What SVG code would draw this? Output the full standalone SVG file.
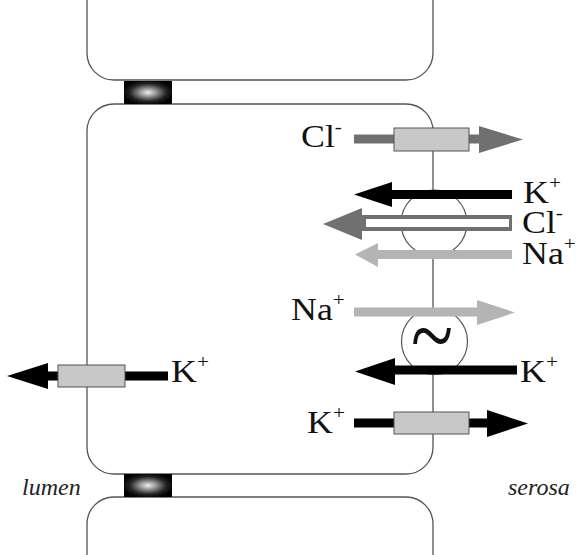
<svg xmlns="http://www.w3.org/2000/svg" width="580" height="555" viewBox="0 0 580 555">
<style>
.mem{fill:none;stroke:#555;stroke-width:1.3}
.box{fill:#c8c8c8;stroke:#555;stroke-width:1}
.circ{fill:#fff;stroke:#555;stroke-width:1.2}
.lbl{font-family:"Liberation Serif","Times New Roman",serif;font-size:32px;fill:#111}
.sup{font-size:19px}
.side{font-family:"Liberation Serif","Times New Roman",serif;font-size:24px;font-style:italic;fill:#222}
.blk{fill:#000}
.dg{fill:#707070}
.lg{fill:#b4b4b4}
</style>
<defs>
<radialGradient id="tj" cx="50%" cy="50%" r="55%">
<stop offset="0" stop-color="#f0f0f0"/>
<stop offset="0.3" stop-color="#999"/>
<stop offset="0.7" stop-color="#222"/>
<stop offset="1" stop-color="#000"/>
</radialGradient>
</defs>
<g id="cells">
<path class="mem" d="M87,0 V53 A27,27 0 0 0 114,80 H406 A27,27 0 0 0 433,53 V0"/>
<rect class="mem" x="87" y="104" width="346" height="370" rx="27" ry="27"/>
<path class="mem" d="M87,555 V524 A27,27 0 0 1 114,497 H406 A27,27 0 0 1 433,524 V555"/>
</g>
<g id="tight-junction-top"><rect x="124" y="81" width="48" height="23" fill="url(#tj)"/></g>
<g id="tight-junction-bottom"><rect x="124" y="474" width="48" height="23" fill="url(#tj)"/></g>
<g id="cotransporter-circle"><circle class="circ" cx="434" cy="223" r="33"/></g>
<g id="pump-circle"><circle class="circ" cx="434.5" cy="341.5" r="33"/></g>
<g id="connectors">
<polygon class="dg" points="354,134.5 479,134.5 479,126 523,139.5 479,153 479,143.5 354,143.5"/>
<polygon class="blk" points="512,190 392,190 392,182 354,194.5 392,207 392,199 512,199"/>
<polygon class="dg" points="512,215 362,215 362,208 323,224 362,240 362,231 512,231"/>
<rect x="366" y="219" width="143" height="8" fill="#fff"/>
<polygon class="lg" points="512,250 378,250 378,243 355,254.5 378,267 378,259 512,259"/>
<polygon class="lg" points="354,307.5 477,307.5 477,300 515,312.5 477,325 477,316.5 354,316.5"/>
<polygon class="blk" points="517,365.5 395,365.5 395,358 355,371.5 395,385 395,374.5 517,374.5"/>
<polygon class="blk" points="354,418.5 487,418.5 487,410 528,423.5 487,437 487,427.5 354,427.5"/>
<polygon class="blk" points="168,371.5 48,371.5 48,363 7,376 48,389 48,380.5 168,380.5"/>
</g>
<g id="cl-channel"><rect class="box" x="394" y="128" width="75" height="23"/></g>
<g id="k-channel-serosal"><rect class="box" x="394" y="412" width="75" height="22"/></g>
<g id="k-channel-luminal"><rect class="box" x="58" y="365" width="67" height="22"/></g>
<g id="tilde"><text transform="translate(411,367) scale(0.95,1.15)" style="font-family:'Liberation Serif','Times New Roman',serif;font-size:82px;fill:#111">~</text></g>
<g id="labels">
<text class="lbl" transform="translate(301,147) scale(1.12,1)">Cl<tspan class="sup" dy="-14">-</tspan></text>
<text class="lbl" transform="translate(523,203) scale(1.12,1)">K<tspan class="sup" dy="-14">+</tspan></text>
<text class="lbl" transform="translate(522,233) scale(1.12,1)">Cl<tspan class="sup" dy="-14">-</tspan></text>
<text class="lbl" transform="translate(522,264) scale(1.12,1)">Na<tspan class="sup" dy="-14">+</tspan></text>
<text class="lbl" transform="translate(291,320) scale(1.12,1)">Na<tspan class="sup" dy="-14">+</tspan></text>
<text class="lbl" transform="translate(520,382) scale(1.12,1)">K<tspan class="sup" dy="-14">+</tspan></text>
<text class="lbl" transform="translate(307,433) scale(1.12,1)">K<tspan class="sup" dy="-14">+</tspan></text>
<text class="lbl" transform="translate(171,382) scale(1.12,1)">K<tspan class="sup" dy="-14">+</tspan></text>
<text class="side" x="22" y="495">lumen</text>
<text class="side" x="508" y="495">serosa</text>
</g>
</svg>
